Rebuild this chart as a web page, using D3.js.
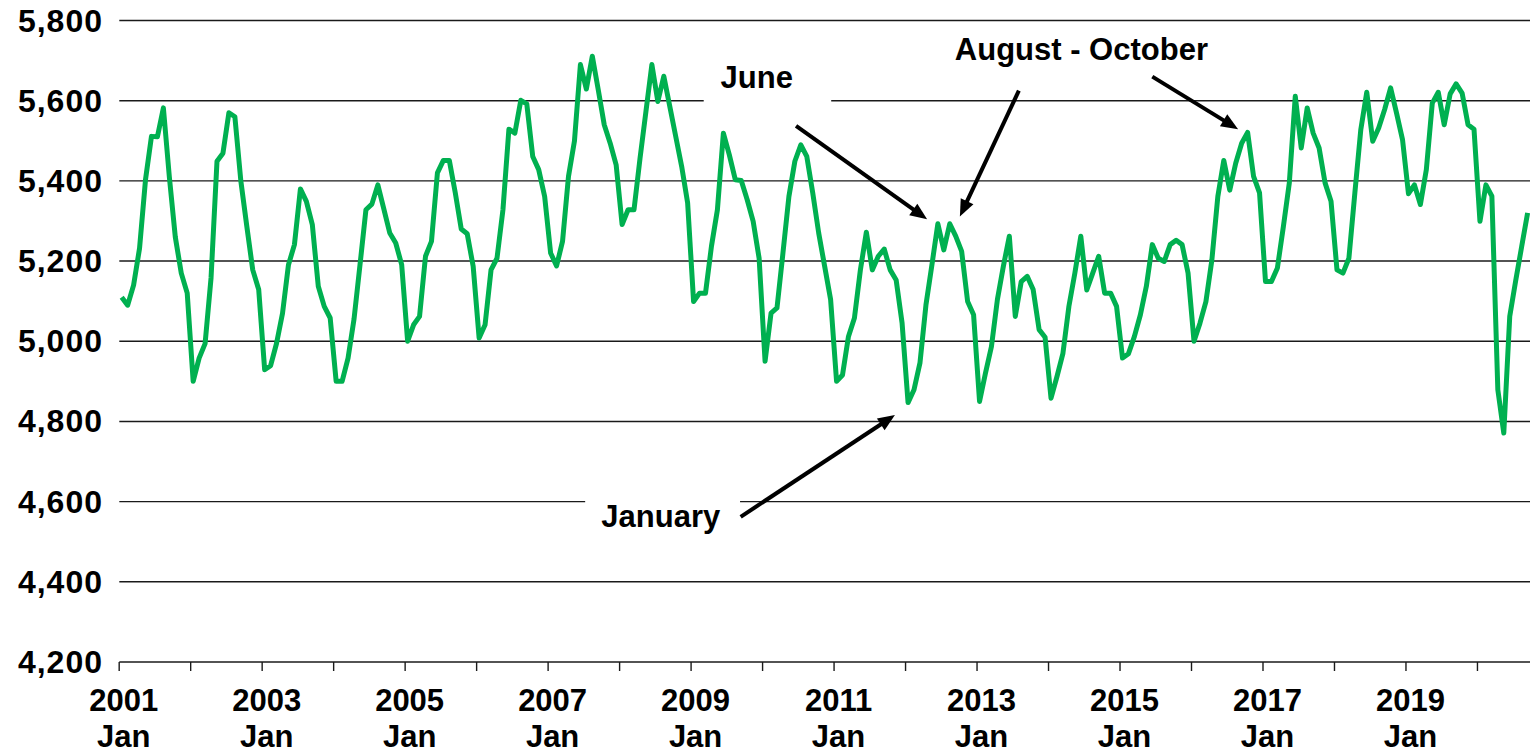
<!DOCTYPE html>
<html>
<head>
<meta charset="utf-8">
<script src="https://cdn.jsdelivr.net/npm/d3@7"></script>
<style>
  body { margin: 0; background: #fff; }
  svg text { font-family: "Liberation Sans", Arial, sans-serif; font-weight: bold; fill: #000; }
</style>
</head>
<body>
<svg id="svg" width="1530" height="752"></svg>
<script>
// monthly values, Jan 2001 .. Sep 2020
const startYear = 2001;
const values = [
  5110, 5090, 5140, 5232, 5403, 5511, 5510, 5582, 5410, 5260, 5170, 5120,
  4900, 4958, 4994, 5158, 5449, 5469, 5570, 5560, 5400, 5287, 5178, 5129,
  4929, 4939, 4995, 5070, 5191, 5241, 5380, 5349, 5291, 5137, 5087, 5058,
  4900, 4900, 4958, 5055, 5190, 5328, 5342, 5390, 5330, 5270, 5245, 5191,
  5000, 5041, 5062, 5212, 5249, 5420, 5451, 5451, 5370, 5280, 5268, 5187,
  5008, 5041, 5178, 5207, 5328, 5529, 5519, 5601, 5592, 5461, 5428, 5361,
  5220, 5188, 5249, 5411, 5499, 5690, 5629, 5711, 5627, 5540, 5494, 5440,
  5291, 5328, 5328, 5455, 5573, 5690, 5598, 5661, 5586, 5511, 5436, 5345,
  5099, 5120, 5120, 5237, 5328, 5519, 5465, 5403, 5401, 5353, 5299, 5207,
  4950, 5070, 5083, 5220, 5361, 5449, 5490, 5461, 5370, 5270, 5187, 5104,
  4900, 4916, 5012, 5058, 5178, 5272, 5178, 5212, 5230, 5178, 5153, 5045,
  4847, 4879, 4946, 5090, 5190, 5293, 5228, 5293, 5262, 5224, 5099, 5066,
  4850, 4921, 4987, 5104, 5187, 5262, 5062, 5149, 5162, 5129, 5029, 5010,
  4858, 4912, 4970, 5087, 5170, 5262, 5128, 5170, 5212, 5120, 5120, 5087,
  4958, 4969, 5012, 5066, 5137, 5241, 5207, 5199, 5241, 5252, 5241, 5170,
  5000, 5045, 5099, 5203, 5361, 5451, 5377, 5444, 5494, 5521, 5411, 5370,
  5149, 5149, 5183, 5286, 5395, 5611, 5482, 5582, 5519, 5482, 5395, 5349,
  5178, 5170, 5207, 5370, 5528, 5621, 5499, 5532, 5578, 5632, 5569, 5503,
  5368, 5390, 5341, 5428, 5594, 5621, 5540, 5617, 5642, 5619, 5540, 5529,
  5299, 5390, 5362, 4879, 4771, 5062, 5151, 5236, 5320
];
const yTicks = [4200, 4400, 4600, 4800, 5000, 5200, 5400, 5600, 5800];
const labelYears = [2001, 2003, 2005, 2007, 2009, 2011, 2013, 2015, 2017, 2019];
const labelMonth = "Jan";

// annotations in data units (month index, value)
const notes = [
  { text: "June", i: 106.6, v: 5632, box: [97.7, 119.1] },
  { text: "August - October", i: 161.1, v: 5701 },
  { text: "January", i: 90.5, v: 4537, box: [77.8, 103.8] }
];
const arrows = [
  { from: [113.2, 5537], to: [135.2, 5304] },
  { from: [150.6, 5625], to: [140.7, 5311] },
  { from: [173.0, 5660], to: [187.4, 5529] },
  { from: [103.9, 4562], to: [129.8, 4816] }
];

const svg = d3.select("#svg");

const x = d3.scaleLinear().domain([-0.4, 236.4]).range([119.3, 1530]);
const y = d3.scaleLinear().domain([4200, 5800]).range([662, 20.5]);

// gridlines
svg
  .append("g")
  .selectAll("line")
  .data(yTicks)
  .join("line")
  .attr("x1", x(-0.4))
  .attr("x2", x(236.4))
  .attr("y1", d => y(d))
  .attr("y2", d => y(d))
  .attr("stroke", "#1a1a1a")
  .attr("stroke-width", 1.4);

// y labels
svg
  .append("g")
  .selectAll("text")
  .data(yTicks)
  .join("text")
  .attr("x", 103)
  .attr("y", d => y(d) + 11)
  .attr("text-anchor", "end")
  .attr("font-size", 32)
  .attr("letter-spacing", 1)
  .text(d => d3.format(",")(d));

// x ticks every year
const yearIdx = d3.range(0, values.length, 12);
svg
  .append("g")
  .selectAll("line")
  .data(yearIdx)
  .join("line")
  .attr("x1", d => x(d) - 2.5)
  .attr("x2", d => x(d) - 2.5)
  .attr("y1", y(4200))
  .attr("y2", y(4200) + 9)
  .attr("stroke", "#1a1a1a")
  .attr("stroke-width", 1.4);

const xLabels = svg
  .append("g")
  .selectAll("text")
  .data(labelYears)
  .join("text")
  .attr("text-anchor", "middle")
  .attr("font-size", 31);
xLabels
  .append("tspan")
  .attr("x", d => x((d - startYear) * 12) + 2)
  .attr("y", 711)
  .text(d => d);
xLabels
  .append("tspan")
  .attr("x", d => x((d - startYear) * 12) + 2)
  .attr("y", 747)
  .text(labelMonth);

// white boxes behind some labels
svg
  .append("g")
  .selectAll("rect")
  .data(notes.filter(n => n.box))
  .join("rect")
  .attr("x", d => x(d.box[0]))
  .attr("width", d => x(d.box[1]) - x(d.box[0]))
  .attr("y", d => y(d.v) - 28)
  .attr("height", 48)
  .attr("fill", "#fff");

// data line
svg
  .append("path")
  .datum(values)
  .attr("fill", "none")
  .attr("stroke", "#00b050")
  .attr("stroke-width", 5)
  .attr("stroke-linejoin", "round")
  .attr("d", d3.line().x((d, i) => x(i)).y(d => y(d)));

// annotation text
svg
  .append("g")
  .selectAll("text")
  .data(notes)
  .join("text")
  .attr("x", d => x(d.i))
  .attr("y", d => y(d.v))
  .attr("text-anchor", "middle")
  .attr("font-size", 31)
  .text(d => d.text);

// arrows
const headLen = 17;
const headHalf = 7;
const arrowG = svg.append("g");
arrows.forEach(a => {
  const x1 = x(a.from[0]), y1 = y(a.from[1]);
  const x2 = x(a.to[0]), y2 = y(a.to[1]);
  const ang = Math.atan2(y2 - y1, x2 - x1);
  const bx = x2 - headLen * Math.cos(ang);
  const by = y2 - headLen * Math.sin(ang);
  arrowG
    .append("line")
    .attr("x1", x1)
    .attr("y1", y1)
    .attr("x2", bx + 3 * Math.cos(ang))
    .attr("y2", by + 3 * Math.sin(ang))
    .attr("stroke", "#000")
    .attr("stroke-width", 4);
  const px = -Math.sin(ang), py = Math.cos(ang);
  arrowG
    .append("path")
    .attr("d", `M${x2},${y2}L${bx + headHalf * px},${by + headHalf * py}L${bx - headHalf * px},${by - headHalf * py}Z`)
    .attr("fill", "#000");
});
</script>
</body>
</html>
